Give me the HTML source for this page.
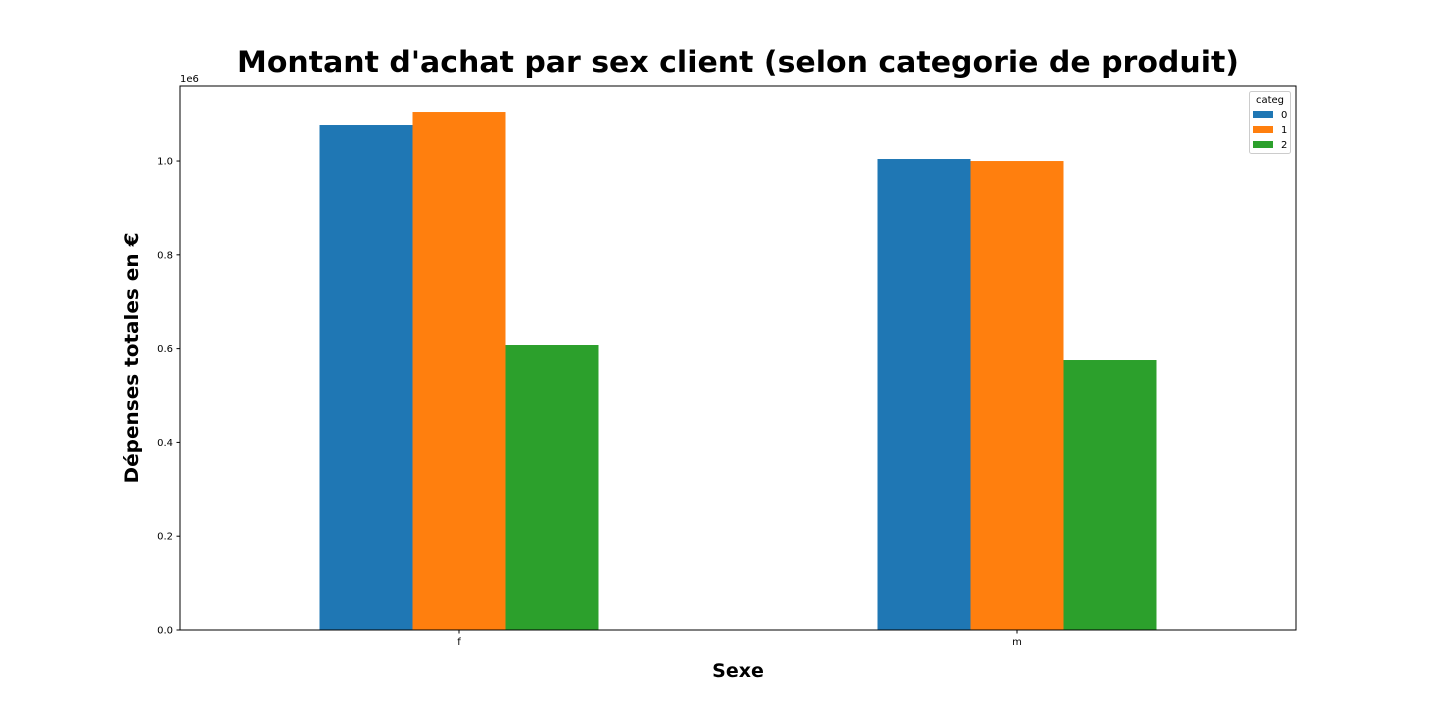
<!DOCTYPE html>
<html><head><meta charset="utf-8"><style>
body{margin:0;background:#fff;}
svg{display:block;font-family:"DejaVu Sans","Liberation Sans",sans-serif;}
</style></head><body>
<svg id="c" width="1440" height="720">
<text x="738" y="72" text-anchor="middle" font-size="29" font-weight="bold" textLength="1002" lengthAdjust="spacingAndGlyphs">Montant d'achat par sex client (selon categorie de produit)</text>
<text x="738" y="677" text-anchor="middle" font-size="19" font-weight="bold">Sexe</text>
<text transform="translate(138,358) rotate(-90)" text-anchor="middle" font-size="19" font-weight="bold" textLength="251" lengthAdjust="spacingAndGlyphs">Dépenses totales en €</text>
<text x="180" y="82" font-size="10">1e6</text>
<g id="bars"></g><g id="ticks"></g>
<rect x="180" y="86" width="1116" height="544" fill="none" stroke="#000" stroke-width="1"/>
<g>
<rect x="1249.5" y="91.5" width="41" height="62" rx="2" fill="#fff" stroke="#ccc"/>
<text x="1270" y="103" text-anchor="middle" font-size="10">categ</text>
<g><rect x="1253" y="111" width="20" height="7" fill="#1f77b4"/><text x="1281" y="118" font-size="10">0</text></g>
<g><rect x="1253" y="126" width="20" height="7" fill="#ff7f0e"/><text x="1281" y="133" font-size="10">1</text></g>
<g><rect x="1253" y="141" width="20" height="7" fill="#2ca02c"/><text x="1281" y="148" font-size="10">2</text></g>
</g>
</svg>
<script>
const categories=["f","m"];
const series0=[1.0768,1.0043];
const series1=[1.1045,1.0000];
const series2=[0.6077,0.5757];
const yTicks=[0,0.2,0.4,0.6,0.8,1.0];
const yTickLabels=["0.0","0.2","0.4","0.6","0.8","1.0"];
const NS="http://www.w3.org/2000/svg";
const L=180,R=1296,T=86,B=630,yMax=1.16;
const x=i=>L+(i+0.5)*(R-L)/categories.length;
const y=v=>B-v/yMax*(B-T);
const step=(R-L)/categories.length, bw=step/6;
const bars=document.getElementById('bars'),ticks=document.getElementById('ticks');
const allS=[series0,series1,series2],cols=["#1f77b4","#ff7f0e","#2ca02c"];
allS.forEach((s,k)=>s.forEach((v,i)=>{
 const r=document.createElementNS(NS,'rect');
 r.setAttribute('x',x(i)+(k-1.5)*bw);r.setAttribute('width',bw);
 r.setAttribute('y',y(v));r.setAttribute('height',B-y(v));r.setAttribute('fill',cols[k]);
 
 
 bars.appendChild(r);
}));
yTicks.forEach((v,i)=>{
 const l=document.createElementNS(NS,'line');
 l.setAttribute('x1',L-3.5);l.setAttribute('x2',L);l.setAttribute('y1',y(v));l.setAttribute('y2',y(v));l.setAttribute('stroke','#000');
 
 
 ticks.appendChild(l);
 const t=document.createElementNS(NS,'text');
 t.setAttribute('x',L-7);t.setAttribute('y',y(v)+3.5);t.setAttribute('text-anchor','end');t.setAttribute('font-size','10');
 t.textContent=yTickLabels[i];
 
 
 ticks.appendChild(t);
});
categories.forEach((c,i)=>{
 const l=document.createElementNS(NS,'line');
 l.setAttribute('x1',x(i));l.setAttribute('x2',x(i));l.setAttribute('y1',B);l.setAttribute('y2',B+3.5);l.setAttribute('stroke','#000');
 
 
 ticks.appendChild(l);
 const t=document.createElementNS(NS,'text');
 t.setAttribute('x',x(i));t.setAttribute('y',B+15);t.setAttribute('text-anchor','middle');t.setAttribute('font-size','10');
 t.textContent=c;
 
 
 ticks.appendChild(t);
});
</script>
</body></html>
